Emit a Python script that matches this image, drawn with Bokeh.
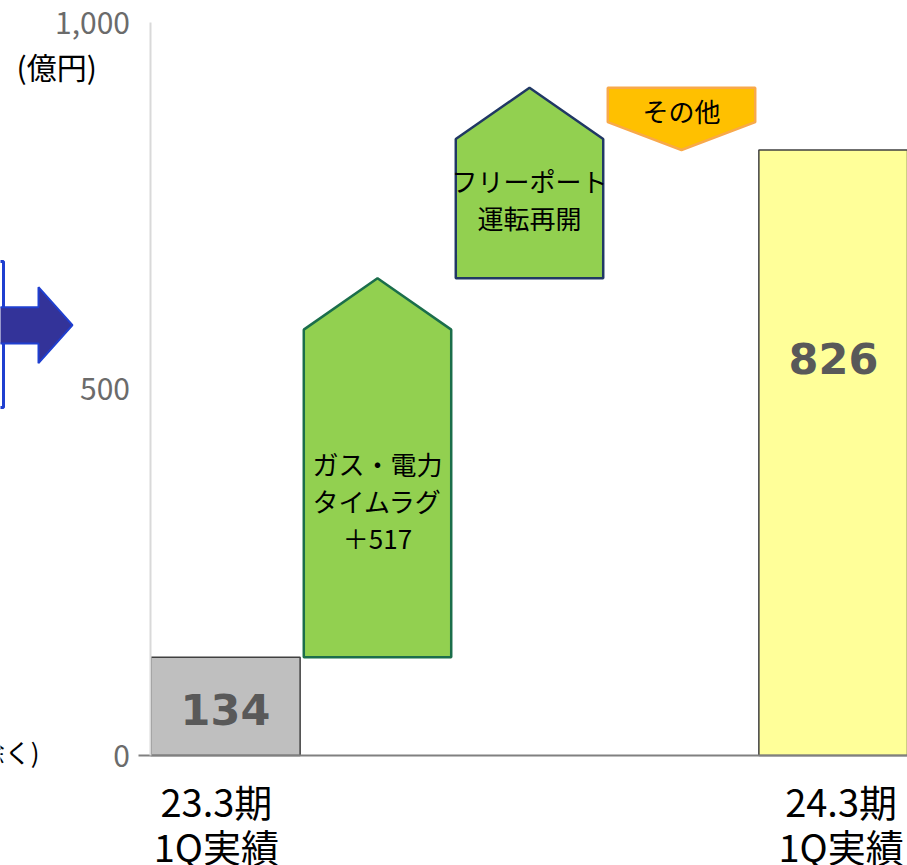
from bokeh.plotting import figure
from bokeh.models import Range1d, LinearAxis, FixedTicker, NumeralTickFormatter, ColumnDataSource
from bokeh.core.properties import value
from bokeh.embed import file_html
from bokeh.resources import INLINE

# ---------------- data ----------------
total_pos = [0, 4]
total_vals = [134, 826]
total_labels = ["134", "826"]
total_colors = ["#BFBFBF", "#FFFF99"]
cat_names = ["23.3期\n1Q実績", "24.3期\n1Q実績"]

step_pos = [1, 2, 3]
step_start = [134, 651, 911]
step_delta = [517, 260, -85]
step_text = ["ガス・電力\nタイムラグ\n＋517", "フリーポート\n運転再開", "その他"]
step_fill = ["#92D050", "#92D050", "#FFC000"]
step_line = ["#1B6E4B", "#203864", "#F8A94A"]

y_ticks = [0, 500, 1000]
unit_label = "(億円)"
side_note = "除く)"

# ---------------- layout helpers ----------------
JP = "Noto Sans CJK JP"
W, H = 907, 865
PX_X = 152.0          # pixels per category
PX_Y = 0.733          # pixels per 億円
X0_SCREEN, Y0_SCREEN = 225, 755   # pixel of category 0 / value 0
LABEL_SHIFT = [-0.06, 0.05]       # small offsets of the category labels


def sx(px):  # pixel x -> data x
    return (px - X0_SCREEN) / PX_X


def sy(py):  # pixel y -> data y
    return (Y0_SCREEN - py) / PX_Y


p = figure(width=W, height=H, output_backend="svg", toolbar_location=None,
           x_range=Range1d(sx(0), sx(W)), y_range=Range1d(sy(H), sy(0)),
           x_axis_location=None, y_axis_location=None,
           min_border=0, outline_line_color=None)
p.xgrid.visible = False
p.ygrid.visible = False
p.background_fill_color = "white"

# ---------------- axes ----------------
yaxis = LinearAxis(fixed_location=sx(149.5), bounds=(0, 1000),
                   ticker=FixedTicker(ticks=y_ticks),
                   formatter=NumeralTickFormatter(format="0,0"))
yaxis.axis_line_color = "#D9D9D9"
yaxis.axis_line_width = 2
yaxis.major_tick_line_color = None
yaxis.minor_tick_line_color = None
yaxis.major_label_standoff = 14
yaxis.major_label_text_font = JP
yaxis.major_label_text_font_size = "30px"
yaxis.major_label_text_color = "#6B6B6B"
p.add_layout(yaxis, "left")

label_ticks = [round(x + s, 3) for x, s in zip(total_pos, LABEL_SHIFT)]
xaxis = LinearAxis(fixed_location=0, bounds=(sx(138), sx(W)),
                   ticker=FixedTicker(ticks=label_ticks),
                   major_label_overrides={t: n for t, n in zip(label_ticks, cat_names)})
xaxis.axis_line_color = "#808080"
xaxis.axis_line_width = 2
xaxis.major_tick_line_color = None
xaxis.minor_tick_line_color = None
xaxis.major_label_standoff = 11
xaxis.major_label_text_font = JP
xaxis.major_label_text_font_size = "38px"
xaxis.major_label_text_color = "black"
xaxis.major_label_text_line_height = 0.83
p.add_layout(xaxis, "below")

# ---------------- decoration on the left (previous panel) ----------------
p.quad(left=sx(-60), right=sx(3), bottom=sy(407), top=sy(261),
       fill_color=None, line_color="#1F3FD0", line_width=3)
p.patch(x=[sx(-10), sx(38), sx(38), sx(72), sx(38), sx(38), sx(-10)],
        y=[sy(306.7), sy(306.7), sy(286.7), sy(324.7), sy(362.7), sy(343), sy(343)],
        fill_color="#333399", line_color="#1F3FD0", line_width=2)

# ---------------- totals ----------------
LABEL_FRAC = [0.47, 0.655]
src_tot = ColumnDataSource(dict(x=total_pos, top=total_vals, color=total_colors,
                                label=total_labels,
                                ly=[v * f for v, f in zip(total_vals, LABEL_FRAC)]))
p.vbar(x="x", top="top", bottom=0, width=0.982, fill_color="color",
       line_color="#404040", line_width=1.5, source=src_tot)
p.text(x="x", y="ly", text="label", source=src_tot, text_align="center",
       text_baseline="middle", text_font=value("DejaVu Sans"), text_font_style="bold",
       text_font_size="43px", text_color="#595959")

# ---------------- steps (arrows) ----------------
HW = 0.485
HEAD_UP = 70
HEAD_DOWN = 38
TEXT_FRAC = [0.48, 0.57, 0.35]
xs, ys, tx, ty = [], [], [], []
for c, s, d, f in zip(step_pos, step_start, step_delta, TEXT_FRAC):
    e = s + d
    xs.append([c - HW, c + HW, c + HW, c, c - HW])
    if d >= 0:
        ys.append([s, s, e - HEAD_UP, e, e - HEAD_UP])
        ty.append(s + (e - HEAD_UP - s) * f)
    else:
        ys.append([s, s, e + HEAD_DOWN, e, e + HEAD_DOWN])
        ty.append(e + HEAD_DOWN + (s - e - HEAD_DOWN) * f)
    tx.append(c)

src_step = ColumnDataSource(dict(xs=xs, ys=ys, fill=step_fill, line=step_line,
                                 tx=tx, ty=ty, txt=step_text))
p.patches(xs="xs", ys="ys", fill_color="fill", line_color="line", line_width=2.5,
          source=src_step)
p.text(x="tx", y="ty", text="txt", source=src_step, text_align="center",
       text_baseline="middle", text_font=value(JP), text_font_size="26px",
       text_color="black", text_line_height=1.0)

# ---------------- unit + side note ----------------
p.text(x=[sx(16)], y=[sy(65)], text=[unit_label], text_align="left",
       text_baseline="middle", text_font=value(JP), text_font_size="30px",
       text_color="black")
p.text(x=[sx(39)], y=[sy(751)], text=[side_note], text_align="right",
       text_baseline="middle", text_font=value(JP), text_font_size="26px",
       text_color="black")

open("out.html", "w").write(file_html(p, INLINE))
